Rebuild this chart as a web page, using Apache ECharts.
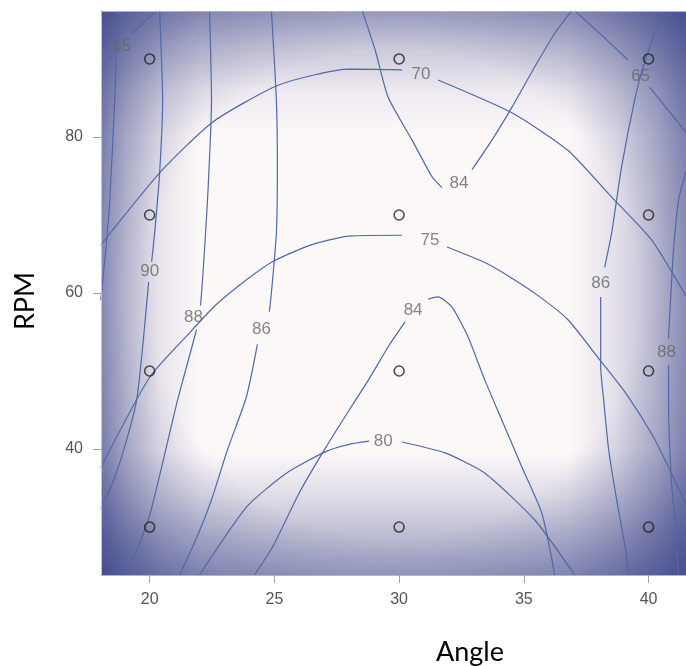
<!DOCTYPE html>
<html>
<head>
<meta charset="utf-8">
<script src="https://cdn.jsdelivr.net/npm/echarts@6/dist/echarts.min.js"></script>
<style>
  html, body { margin: 0; padding: 0; background: #fff; }
  #main { width: 686px; height: 666px; }
</style>
</head>
<body>
<div id="main"></div>
<script>
// axis ticks
const angleTicks = [20, 25, 30, 35, 40];
const rpmTicks = [40, 60, 80];

// design points (Angle, RPM)
const designPoints = [
  [20, 30], [20, 50], [20, 70], [20, 90],
  [30, 30], [30, 50], [30, 70], [30, 90],
  [40, 30], [40, 50], [40, 70], [40, 90]
];

// contour lines; each is a list of segments (broken at the label)
const c65left = [[[18.05, 88.6], [18.48, 90.3]], [[19.32, 93.3], [20.28, 96.2]]];
const c65right = [[[37.04, 96.2], [38.2, 92.8], [39.16, 89.9]], [[40.04, 86.4], [41.5, 80.6]]];
const c70 = [
  [[18.04, 66.15], [20.4, 75.4], [22.52, 81.9], [25.2, 86.7], [28.0, 88.7], [30.12, 88.6]],
  [[31.56, 87.3], [34.52, 83.1], [36.76, 78.3], [38.52, 72.3], [40.12, 66.8], [41.5, 59.6]]
];
const c75 = [
  [[18.04, 37.6], [20.0, 49.2], [21.6, 54.9], [22.6, 58.3], [23.6, 61.0], [24.92, 64.0], [26.5, 66.2], [28.0, 67.3], [30.12, 67.4]],
  [[31.92, 65.9], [33.44, 63.9], [34.52, 61.9], [35.6, 59.6], [36.76, 56.6], [38.1, 51.2], [39.12, 47.0], [40.2, 41.5], [40.96, 36.6], [41.5, 32.8]]
];
const c80 = [
  [[22.0, 23.85], [23.88, 32.56], [25.48, 36.9], [27.08, 39.7], [28.0, 40.6], [28.8, 41.0]],
  [[30.12, 40.9], [31.84, 39.5], [33.44, 36.9], [35.44, 30.9], [37.04, 23.85]]
];
const c92 = [[[18.72, 96.2], [18.6, 84.7], [18.4, 71.9], [18.24, 65.5], [18.04, 59.1]]];
const c90 = [
  [[20.4, 96.2], [20.52, 84.7], [20.4, 75.4], [20.2, 67.7], [20.08, 64.0]],
  [[19.96, 61.4], [19.72, 53.1], [19.48, 46.3], [19.08, 41.2], [18.56, 36.0], [18.04, 32.4]]
];
const c88left = [
  [[22.4, 96.2], [22.48, 84.7], [22.32, 71.9], [22.12, 61.7], [22.04, 58.4]],
  [[21.88, 55.3], [21.5, 50.8], [21.12, 46.3], [20.8, 42.0], [20.4, 36.6], [20.0, 31.5], [19.52, 27.3], [19.08, 23.85]]
];
const c86left = [
  [[24.88, 96.2], [25.08, 84.7], [25.12, 76.2], [25.08, 67.7], [24.88, 60.0], [24.8, 57.6]],
  [[24.32, 53.4], [23.88, 46.7], [23.12, 39.9], [22.48, 33.5], [21.84, 28.3], [21.2, 23.85]]
];
const c84top = [
  [[28.52, 96.2], [29.04, 91.15], [29.56, 85.1], [30.52, 79.6], [31.32, 74.9], [31.72, 73.5]],
  [[32.92, 75.8], [33.72, 79.6], [34.52, 83.8], [35.44, 89.0], [36.24, 93.3], [36.92, 96.2]]
];
const c84bottom = [
  [[24.2, 23.85], [24.92, 27.4], [26.0, 34.4], [27.08, 40.3], [28.0, 45.0], [28.76, 48.8], [29.6, 53.3], [30.24, 56.3]],
  [[31.16, 59.2], [31.56, 59.5], [32.12, 58.2], [32.76, 54.4], [33.44, 48.8], [34.12, 43.7], [34.92, 37.7], [35.72, 31.8], [36.24, 23.85]]
];
const c86right = [
  [[40.56, 96.2], [39.8, 89.2], [39.44, 84.7], [38.92, 76.2], [38.52, 67.7], [38.24, 63.3]],
  [[38.08, 59.5], [38.08, 50.5], [38.2, 46.3], [38.4, 39.9], [38.72, 33.5], [39.08, 27.1], [39.2, 23.85]]
];
const c88right = [
  [[41.5, 75.6], [41.2, 71.9], [41.0, 65.5], [40.88, 59.1], [40.8, 54.2]],
  [[40.8, 50.8], [40.8, 46.3], [40.92, 35.6], [41.08, 30.0], [41.2, 23.85]]
];

// contour labels: [angle, rpm, text]
const contourLabels = [
  [18.88, 91.6, '65'], [39.68, 87.8, '65'],
  [30.88, 88.0, '70'], [31.24, 66.7, '75'], [29.36, 41.0, '80'],
  [20.0, 62.8, '90'], [21.76, 56.9, '88'], [24.48, 55.4, '86'],
  [32.4, 74.1, '84'], [30.56, 57.8, '84'],
  [38.08, 61.3, '86'], [40.72, 52.4, '88']
];

const allContours = [c65left, c65right, c70, c75, c80, c92, c90, c88left, c86left, c84top, c84bottom, c86right, c88right];

const chart = echarts.init(document.getElementById('main'));

const navy = (a) => 'rgba(40,50,125,' + a + ')';
const plot = { x: 101, y: 11, width: 585, height: 564 };

const lineSeries = [];
allContours.forEach(function (c) {
  c.forEach(function (seg) {
    lineSeries.push({
      type: 'line',
      data: seg,
      smooth: 0.2,
      showSymbol: false,
      silent: true,
      lineStyle: { color: '#4f68a8', width: 1.2 },
      z: 2
    });
  });
});

const option = {
  animation: false,
  grid: {
    left: plot.x, top: plot.y, right: 0, bottom: 666 - plot.y - plot.height,
    show: true, backgroundColor: '#fdf8f8', borderWidth: 0,
    outerBoundsMode: 'none'
  },
  graphic: [
    {
      type: 'rect', z: 1, silent: true,
      shape: plot,
      style: { fill: { type: 'linear', x: 0, y: 0, x2: 1, y2: 0, colorStops: [
        { offset: 0, color: navy(0.5) }, { offset: 0.04, color: navy(0.3) },
        { offset: 0.1, color: navy(0.1) }, { offset: 0.17, color: navy(0) },
        { offset: 0.8, color: navy(0) }, { offset: 0.88, color: navy(0.12) },
        { offset: 0.95, color: navy(0.3) }, { offset: 1, color: navy(0.48) }
      ] } }
    },
    {
      type: 'rect', z: 1, silent: true,
      shape: plot,
      style: { fill: { type: 'linear', x: 0, y: 0, x2: 0, y2: 1, colorStops: [
        { offset: 0, color: navy(0.42) }, { offset: 0.06, color: navy(0.25) },
        { offset: 0.14, color: navy(0.08) }, { offset: 0.22, color: navy(0) },
        { offset: 0.78, color: navy(0) }, { offset: 0.86, color: navy(0.14) },
        { offset: 0.93, color: navy(0.3) }, { offset: 1, color: navy(0.45) }
      ] } }
    },
    {
      type: 'rect', z: 1, silent: true,
      shape: plot,
      style: { fill: { type: 'radial', x: 0.5, y: 0.5, r: 0.72, colorStops: [
        { offset: 0, color: navy(0) }, { offset: 0.6, color: navy(0) },
        { offset: 0.8, color: navy(0.22) }, { offset: 1, color: navy(0.5) }
      ] } }
    },
    {
      type: 'text', x: 470, y: 652, z: 10,
      style: { text: 'Angle', fontFamily: 'Lato', fontSize: 27, fill: '#000', align: 'center', verticalAlign: 'middle' }
    },
    {
      type: 'text', x: 25, y: 301, rotation: Math.PI / 2, z: 10,
      style: { text: 'RPM', fontFamily: 'Lato', fontSize: 27, fill: '#000', align: 'center', verticalAlign: 'middle' }
    }
  ],
  xAxis: [
    {
      type: 'value', min: 18.05, max: 41.5, z: 5,
      axisLine: { show: true, lineStyle: { color: '#b4b4b4', width: 1 } },
      axisTick: { show: true, length: 8, customValues: angleTicks, lineStyle: { color: '#a0a0a0' } },
      axisLabel: { customValues: angleTicks, margin: 17, color: '#555', fontSize: 16, fontFamily: 'Liberation Sans' },
      splitLine: { show: false }
    },
    {
      type: 'value', min: 18.05, max: 41.5, position: 'top', z: 5,
      axisLine: { show: true, lineStyle: { color: '#b4b4b4', width: 1 } },
      axisTick: { show: false }, axisLabel: { show: false }, splitLine: { show: false }
    }
  ],
  yAxis: {
    type: 'value', min: 23.85, max: 96.15, z: 5,
    axisLine: { show: true, lineStyle: { color: '#c4c4c4', width: 1 } },
    axisTick: { show: true, length: 8, customValues: rpmTicks, lineStyle: { color: '#a0a0a0' } },
    axisLabel: { customValues: rpmTicks, margin: 18, color: '#555', fontSize: 16, fontFamily: 'Liberation Sans' },
    splitLine: { show: false }
  },
  series: lineSeries.concat([
    {
      type: 'scatter',
      data: contourLabels,
      symbolSize: 0,
      silent: true,
      itemStyle: { color: 'rgba(0,0,0,0)' },
      label: {
        show: true, position: 'inside',
        formatter: function (p) { return p.data[2]; },
        color: '#666', fontSize: 17, fontFamily: 'Liberation Sans'
      },
      z: 3
    },
    {
      type: 'scatter',
      data: designPoints,
      symbol: 'circle',
      symbolSize: 10,
      silent: true,
      itemStyle: { color: 'rgba(0,0,0,0)', borderColor: '#222', borderWidth: 1.6 },
      z: 4
    }
  ])
};

chart.setOption(option);
</script>
</body>
</html>
